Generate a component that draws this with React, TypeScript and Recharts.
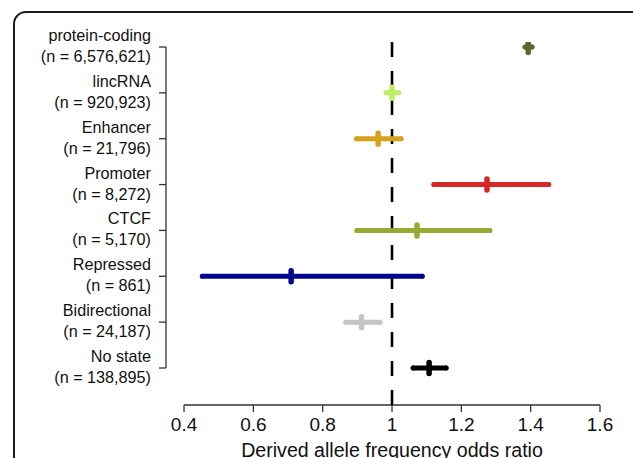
import React from "react";
import { ScatterChart, Scatter, XAxis, YAxis, ErrorBar, ReferenceLine } from "recharts";

const categories = ["protein-coding", "lincRNA", "Enhancer", "Promoter", "CTCF", "Repressed", "Bidirectional", "No state"];
const counts = ["6,576,621", "920,923", "21,796", "8,272", "5,170", "861", "24,187", "138,895"];
const oddsRatio = [1.393, 1.0, 0.96, 1.274, 1.072, 0.709, 0.912, 1.107];
const lower = [1.384, 0.983, 0.898, 1.121, 0.899, 0.453, 0.867, 1.061];
const upper = [1.404, 1.019, 1.026, 1.452, 1.282, 1.087, 0.965, 1.156];
const colors = ["#556B2F", "#BDEE63", "#D6A21E", "#D42828", "#97A935", "#03058C", "#C4C4C4", "#000000"];
const xTicks = [0.4, 0.6, 0.8, 1, 1.2, 1.4, 1.6];

const X_MIN = 0.348;
const X_MAX = 1.6;
const Y_MIN = -0.109;
const Y_MAX = 7.807;
const FONT = "'Liberation Sans', Arial, sans-serif";
const AXIS = "#333";

const YTick = (props: any) => {
  const i = props.payload.value;
  const x = props.x - 8;
  return (
    <text x={x} textAnchor="end" fontSize={16.2} fill="#111" fontFamily={FONT}>
      <tspan x={x} y={props.y - 6}>{categories[i]}</tspan>
      <tspan x={x} y={props.y + 15}>{`(n = ${counts[i]})`}</tspan>
    </text>
  );
};

const XTick = (props: any) => (
  <text x={props.x} y={props.y + 19} textAnchor="middle" fontSize={19} fill="#111" fontFamily={FONT}>
    {String(props.payload.value)}
  </text>
);

// axis title sits under the middle of the 0.4–1.6 span (i.e. under 1.0)
const XTitle = (props: any) => {
  const vb = props.viewBox;
  const cx = vb.x + (vb.width * (1 - X_MIN)) / (X_MAX - X_MIN);
  return (
    <text x={cx} y={vb.y + 51.5} textAnchor="middle" fontSize={19.6} fill="#111" fontFamily={FONT}>
      Derived allele frequency odds ratio
    </text>
  );
};

export default function App() {
  const rows = categories.map((c, i) => ({
    name: c,
    x: oddsRatio[i],
    y: i,
    err: [oddsRatio[i] - lower[i], upper[i] - oddsRatio[i]],
  }));

  return (
    <div style={{ position: "absolute", left: 0, top: 0, width: 633, height: 458, overflow: "hidden", background: "#fff" }}>
      <div
        style={{
          position: "absolute",
          left: 13,
          top: 11,
          width: 640,
          height: 480,
          border: "2px solid #1c1c1c",
          borderRadius: 13,
          boxSizing: "border-box",
        }}
      />
      <div style={{ position: "absolute", left: 0, top: 0 }}>
        <ScatterChart width={633} height={458} margin={{ top: 42, right: 33, bottom: 0, left: 16 }}>
          <XAxis
            type="number"
            dataKey="x"
            domain={[X_MIN, X_MAX]}
            ticks={xTicks}
            tickSize={7}
            tickMargin={0}
            axisLine={false}
            tickLine={{ stroke: AXIS, strokeWidth: 1.3 }}
            height={53}
            tick={<XTick />}
            label={<XTitle />}
            allowDataOverflow
          />
          <YAxis
            type="number"
            dataKey="y"
            domain={[Y_MIN, Y_MAX]}
            ticks={[0, 1, 2, 3, 4, 5, 6, 7]}
            reversed
            width={150}
            tickSize={7}
            tickMargin={0}
            axisLine={false}
            tickLine={{ stroke: AXIS, strokeWidth: 1.3 }}
            tick={<YTick />}
            interval={0}
            allowDataOverflow
          />
          <ReferenceLine
            segment={[{ x: 0.4, y: Y_MAX }, { x: 1.6, y: Y_MAX }]}
            stroke={AXIS}
            strokeWidth={1.3}
            ifOverflow="visible"
          />
          <ReferenceLine
            segment={[{ x: X_MIN, y: 0 }, { x: X_MIN, y: 7 }]}
            stroke={AXIS}
            strokeWidth={1.3}
            ifOverflow="visible"
          />
          <ReferenceLine x={1} stroke="#000" strokeWidth={2.6} strokeDasharray="15 14" />
          {rows.map((r, i) => (
            <Scatter
              key={r.name}
              data={[r]}
              isAnimationActive={false}
              shape={(p: any) => (
                <line
                  x1={p.cx}
                  x2={p.cx}
                  y1={p.cy - 5.5}
                  y2={p.cy + 5.5}
                  stroke={colors[i]}
                  strokeWidth={5.5}
                  strokeLinecap="round"
                />
              )}
            >
              <ErrorBar
                dataKey="err"
                direction="x"
                width={0}
                stroke={colors[i]}
                strokeWidth={5}
                strokeLinecap="round"
                isAnimationActive={false}
              />
            </Scatter>
          ))}
        </ScatterChart>
      </div>
    </div>
  );
}
